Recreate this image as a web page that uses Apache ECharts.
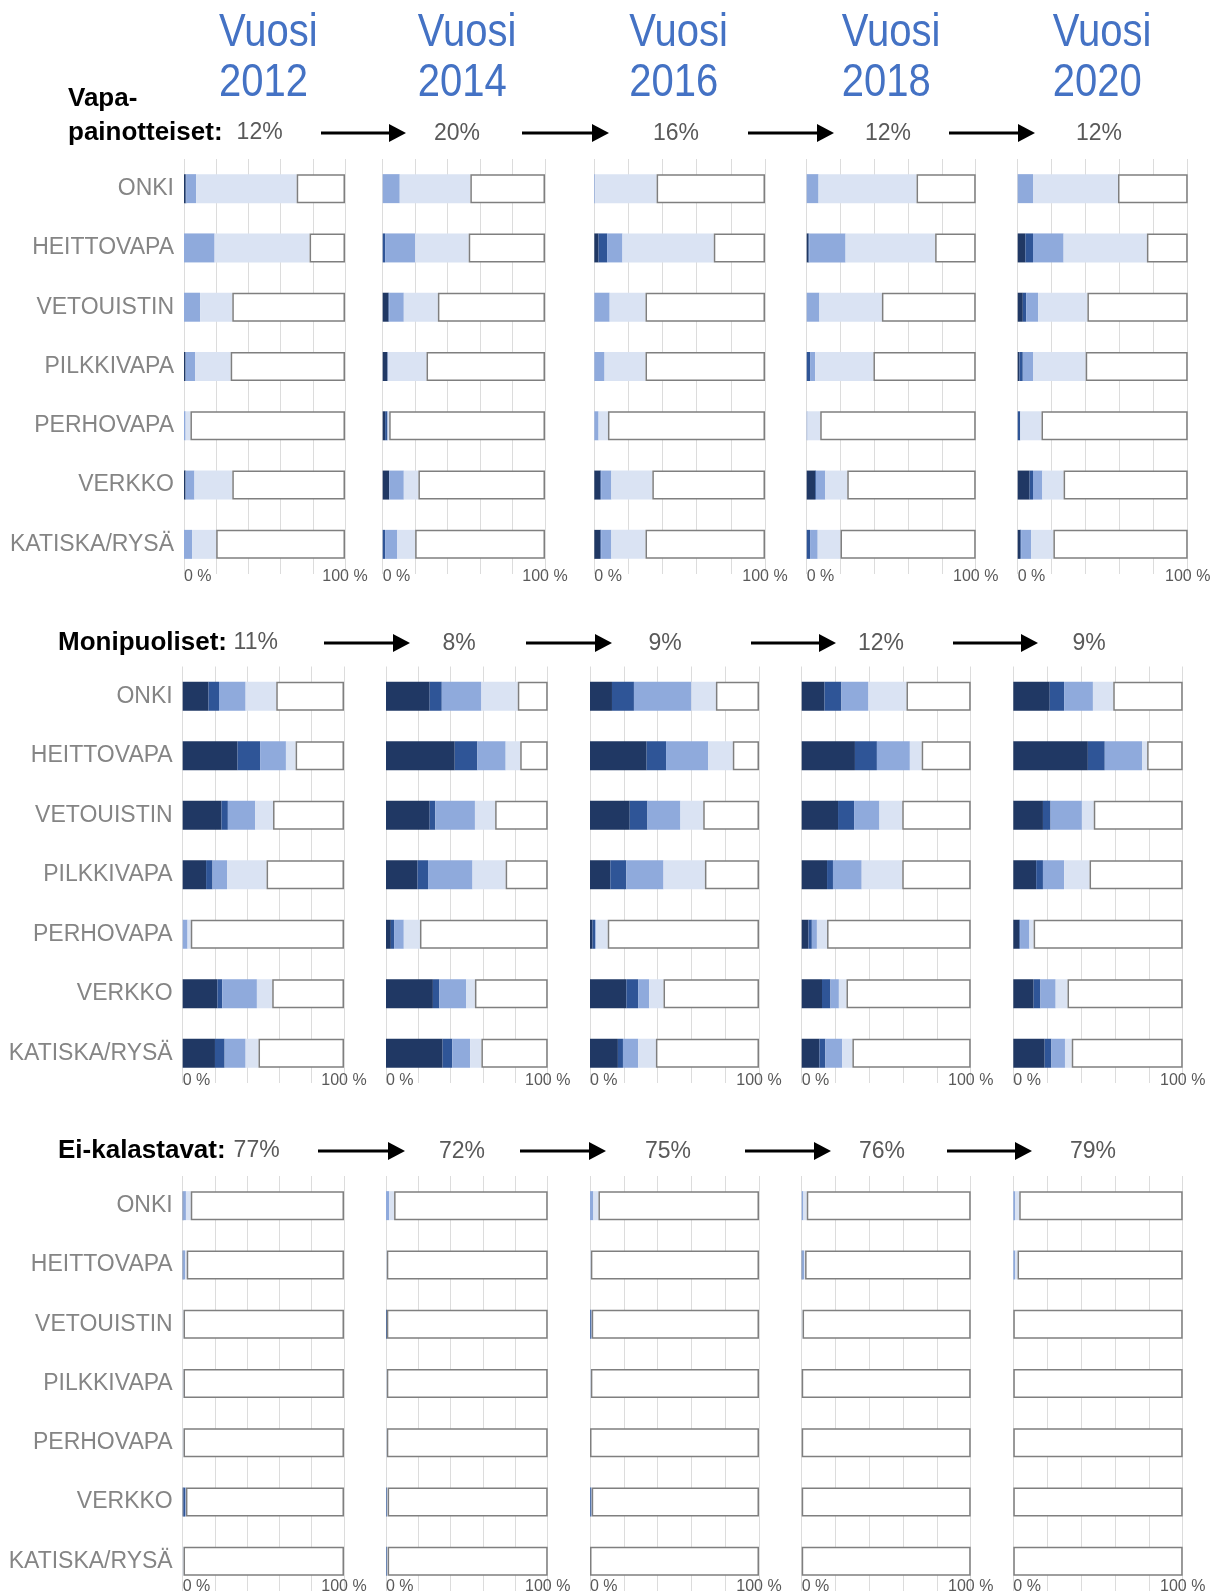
<!DOCTYPE html>
<html><head><meta charset="utf-8">
<script src="https://cdn.jsdelivr.net/npm/echarts@6/dist/echarts.min.js"></script>
<style>html,body{margin:0;padding:0;background:#fff}#c{width:1215px;height:1596px}</style>
</head><body><div id="c"></div>
<script>
// ---------- DATA ----------
const categories = ['ONKI','HEITTOVAPA','VETOUISTIN','PILKKIVAPA','PERHOVAPA','VERKKO','KATISKA/RYSÄ'];
const years = ['2012','2014','2016','2018','2020'];
const groupNames = ['Vapa-', 'Monipuoliset:', 'Ei-kalastavat:'];
const vapaShares = [12, 20, 16, 12, 12];
const moniShares = [11, 8, 9, 12, 9];
const eiShares = [77, 72, 75, 76, 79];
const xTickLabels = ['0 %', '100 %'];

// each row: [darkest, dark, medium, light, white] in % (per category)
const vapa2012 = [[1,0.5,6,62.5,30],[0,0,19,59,22],[0,0,10,20,70],[1,0,6,22,71],[0,0,1,3,96],[1,0,5.5,23.5,70],[0,0,5,15,80]];
const vapa2014 = [[0,0,10.5,43.5,46],[0,1.5,18.5,33,47],[3.5,0.5,9,21,66],[3,0,0.5,23.5,73],[1.5,1.5,0,1,96],[4,0,9,9,78],[0,1.5,7.5,11,80]];
const vapa2016 = [[0,0,0.5,36,63.5],[2.5,5,9,53.5,30],[0,0,9,21,70],[0,0,6,24,70],[0,0,2.5,5.5,92],[3.5,0.5,6,24,66],[3.5,0.5,6,20,70]];
const vapa2018 = [[0,0,7,58,35],[1,0.5,21.5,53,24],[0,0,7.5,37,55.5],[0,2,3,34.5,60.5],[0,0,0.5,7.5,92],[5,0.5,5.5,13,76],[0,2,4.5,13.5,80]];
const vapa2020 = [[0,0,9,50,41],[4.5,4.5,18,49,24],[3,2,7,29,59],[1,2,6,31,60],[0,1.5,0,12.5,86],[7,2,5.5,12.5,73],[1.5,0.5,6,13,79]];

const moni2012 = [[16,6.5,16.5,19,42],[34,14,16,6,30],[24,4,17,11,44],[14.5,4,9,24.5,48],[0,0,3,2,95],[21.5,3,21.5,9.5,44.5],[20,6,13,8,53]];
const moni2014 = [[27,7.5,24.5,22.5,18.5],[42.5,14,17.5,9,17],[27,3.5,24.5,12.5,32.5],[19.5,6.5,27.5,20.5,26],[3,2,6,10,79],[29,4,16.5,5.5,45],[35,6,11,7,41]];
const moni2016 = [[13,13,34,14.5,25.5],[33.5,11.5,25,14.5,15.5],[23.5,10.5,19.5,13.5,33],[12,9.5,22,24.5,32],[1.5,1.5,0.5,7,89.5],[21.5,7,6.5,8.5,56.5],[16.5,3,9,10.5,61]];
const moni2018 = [[13.5,10,16,22.5,38],[31.5,13,19.5,7,29],[21.5,9.5,15,13.5,40.5],[15,3.5,17,24,40.5],[4,2,3,6,85],[12,5,5,4.5,73.5],[10.5,3.5,10,6,70]];
const moni2020 = [[21.5,8.5,17,12,41],[44,10,22,3,21],[17.5,4.5,18.5,7,52.5],[13.5,4,12.5,15,55],[3.5,0.5,5.5,2.5,88],[12,4,9,7,68],[18.5,4,8,4,65.5]];

const ei2012 = [[0,0.5,1.5,3,95],[0,0.5,1,1,97.5],[0,0,0,0.5,99.5],[0,0,0,0.5,99.5],[0,0,0,0.5,99.5],[0.5,1,0.5,0,98],[0,0,0,0.5,99.5]];
const ei2014 = [[0,0,2,3,95],[0,0,0,0.5,99.5],[0,0.5,0,0,99.5],[0,0,0,0.5,99.5],[0,0,0,0.5,99.5],[0,0.5,0,0.5,99],[0,0.5,0,0.5,99]];
const ei2016 = [[0,0,2,3,95],[0,0,0,0.5,99.5],[0,0.5,0.5,0,99],[0,0,0,0.5,99.5],[0,0,0,0,100],[0,0.5,0.5,0,99],[0,0,0,0,100]];
const ei2018 = [[0,0,1,2,97],[0,0.5,1,0.5,98],[0,0,0,0.5,99.5],[0,0,0,0,100],[0,0,0,0,100],[0,0,0,0,100],[0,0,0,0,100]];
const ei2020 = [[0,0,1,2.5,96.5],[0,0,1,1.5,97.5],[0,0,0,0,100],[0,0,0,0,100],[0,0,0,0,100],[0,0,0,0,100],[0,0,0,0,100]];

// ---------- LAYOUT / STYLE ----------
const F = "'Liberation Sans', Arial, sans-serif";
const segColors = ['#203864', '#2F5597', '#8FAADC', '#DAE3F3', '#FFFFFF'];
const groups = [
  { panels: [vapa2012, vapa2014, vapa2016, vapa2018, vapa2020], shares: vapaShares,
    xs: [[184,345],[382.7,545],[594.3,765],[806.7,975.7],[1017.7,1187.7]], top: 159, height: 415, labelMargin: -5,
    labelY: 133, nameX: 68, firstPctX: 236.6,
    arrows: [[321,406],[522,609],[748,834],[949,1035]], pctX: [457,676,888,1099] },
  { panels: [moni2012, moni2014, moni2016, moni2018, moni2020], shares: moniShares,
    xs: [[182.7,344],[386,547.7],[590,759],[801.7,970.7],[1013.3,1182.7]], top: 666.5, height: 416.5, labelMargin: -10,
    labelY: 643, nameX: 58, firstPctX: 233.6,
    arrows: [[324,410],[526,612],[751,836],[953,1038]], pctX: [459,665,881,1089] },
  { panels: [ei2012, ei2014, ei2016, ei2018, ei2020], shares: eiShares,
    xs: [[182.7,344],[386,547.7],[590,759],[801.7,970.7],[1013.3,1182.7]], top: 1176, height: 415, labelMargin: -12,
    labelY: 1151, nameX: 58, firstPctX: 233.6,
    arrows: [[318,405],[520,606],[745,831],[947,1032]], pctX: [462,668,882,1093] }
];

const grids = [], xAxes = [], yAxes = [], series = [], graphics = [];

groups.forEach((g, gi) => {
  g.panels.forEach((panel, pi) => {
    const idx = grids.length;
    const l = g.xs[pi][0], r = g.xs[pi][1];
    grids.push({ left: l, top: g.top, width: r - l, height: g.height, containLabel: false, outerBoundsMode: 'none' });
    xAxes.push({
      type: 'value', gridIndex: idx, min: 0, max: 100, interval: 20,
      axisLine: { show: false }, axisTick: { show: false },
      splitLine: { show: true, lineStyle: { color: '#DCDCDC', width: 1 } },
      axisLabel: {
        margin: g.labelMargin, fontSize: 16, color: '#595959', fontFamily: F,
        showMinLabel: true, showMaxLabel: true, alignMinLabel: 'left',
        formatter: v => (v === 0 ? xTickLabels[0] : (v === 100 ? xTickLabels[1] : ''))
      }
    });
    yAxes.push({
      type: 'category', gridIndex: idx, data: categories, inverse: true,
      axisLine: { show: false }, axisTick: { show: false }, splitLine: { show: false },
      axisLabel: { show: pi === 0, interval: 0, margin: 10, fontSize: 23, color: '#858585', fontFamily: F }
    });
    for (let s = 0; s < 5; s++) {
      series.push({
        type: 'bar', xAxisIndex: idx, yAxisIndex: idx, stack: 'p' + idx, barWidth: 29,
        silent: true, animation: false,
        itemStyle: s === 4 ? { color: '#FFFFFF', borderColor: '#7F7F7F', borderWidth: 1.5 } : { color: segColors[s] },
        data: panel.map(row => row[s])
      });
    }
  });

  // group title + shares + arrows
  const y = g.labelY;
  if (gi === 0) {
    graphics.push({ type: 'text', x: g.nameX, y: 99, style: { text: groupNames[0], font: "bold 26px " + F, fill: '#000', align: 'left', verticalAlign: 'middle', textAlign: 'left', textVerticalAlign: 'middle' } });
    graphics.push({ type: 'text', x: g.nameX, y: y, style: { text: 'painotteiset:', font: "bold 26px " + F, fill: '#000', align: 'left', verticalAlign: 'middle', textAlign: 'left', textVerticalAlign: 'middle' } });
  } else {
    graphics.push({ type: 'text', x: g.nameX, y: y, style: { text: groupNames[gi], font: "bold 26px " + F, fill: '#000', align: 'left', verticalAlign: 'middle', textAlign: 'left', textVerticalAlign: 'middle' } });
  }
  graphics.push({ type: 'text', x: g.firstPctX, y: y, style: { text: g.shares[0] + '%', font: "23px " + F, fill: '#595959', align: 'left', verticalAlign: 'middle', textAlign: 'left', textVerticalAlign: 'middle' } });
  g.arrows.forEach((a, ai) => {
    graphics.push({ type: 'line', shape: { x1: a[0], y1: y, x2: a[1] - 12, y2: y }, style: { stroke: '#000', lineWidth: 3 } });
    graphics.push({ type: 'polygon', shape: { points: [[a[1] - 17, y - 9], [a[1], y], [a[1] - 17, y + 9]] }, style: { fill: '#000' } });
    graphics.push({ type: 'text', x: g.pctX[ai], y: y + 1, style: { text: g.shares[ai + 1] + '%', font: "23px " + F, fill: '#595959', align: 'center', verticalAlign: 'middle', textAlign: 'center', textVerticalAlign: 'middle' } });
  });
});

// year headers
years.forEach((yr, i) => {
  const lx = groups[0].xs[i][0] + 35;
  graphics.push({ type: 'text', x: lx, y: 33, scaleX: 0.87, style: { text: 'Vuosi', font: "46px " + F, fill: '#4472C4', align: 'left', verticalAlign: 'middle', textAlign: 'left', textVerticalAlign: 'middle' } });
  graphics.push({ type: 'text', x: lx, y: 83, scaleX: 0.87, style: { text: yr, font: "46px " + F, fill: '#4472C4', align: 'left', verticalAlign: 'middle', textAlign: 'left', textVerticalAlign: 'middle' } });
});

const chart = echarts.init(document.getElementById('c'), null, { renderer: 'canvas' });
chart.setOption({
  backgroundColor: '#FFFFFF',
  animation: false,
  grid: grids, xAxis: xAxes, yAxis: yAxes, series: series,
  graphic: { elements: graphics }
});
</script>
</body></html>
